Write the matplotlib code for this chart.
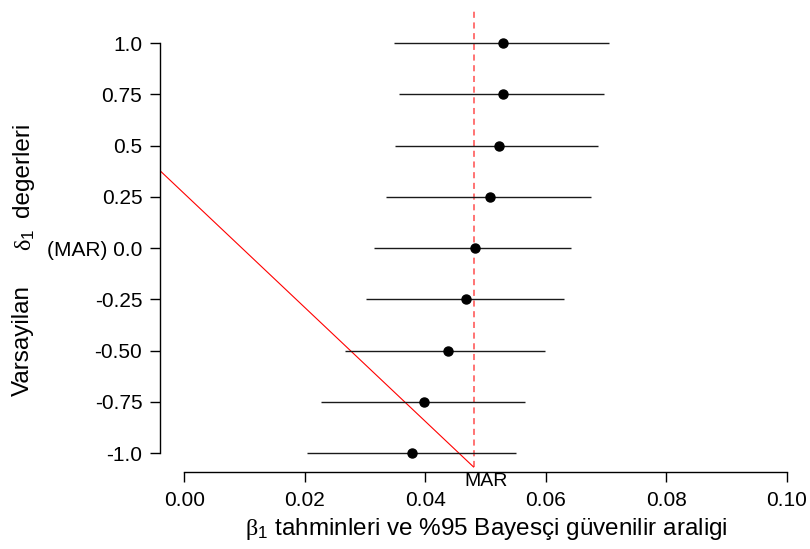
import matplotlib
matplotlib.use("Agg")
import matplotlib.pyplot as plt

plt.rcParams['font.family'] = ['Liberation Sans', 'DejaVu Sans']
plt.rcParams['mathtext.fontset'] = 'custom'
plt.rcParams['mathtext.rm'] = 'Liberation Serif'
plt.rcParams['mathtext.sf'] = 'Liberation Sans'
plt.rcParams['mathtext.it'] = 'Liberation Sans:italic'

# data
delta = [1.0, 0.75, 0.5, 0.25, 0.0, -0.25, -0.5, -0.75, -1.0]
ytick_labels = ["1.0", "0.75", "0.5", "0.25", "(MAR) 0.0", "-0.25", "-0.50", "-0.75", "-1.0"]
est = [0.0529, 0.0529, 0.0522, 0.0508, 0.0482, 0.0467, 0.0437, 0.0397, 0.0378]
lower = [0.0348, 0.0357, 0.0350, 0.0334, 0.0315, 0.0302, 0.0267, 0.0227, 0.0203]
upper = [0.0705, 0.0697, 0.0686, 0.0675, 0.0641, 0.0631, 0.0598, 0.0566, 0.0551]
mar_value = 0.048
xticks = [0.00, 0.02, 0.04, 0.06, 0.08, 0.10]
xtick_labels = ["0.00", "0.02", "0.04", "0.06", "0.08", "0.10"]
red_line_x = [-0.004, 0.048]
red_line_y = [0.3756, -1.068]

W, H = 810, 549
fig = plt.figure(figsize=(8.1, 5.49), dpi=100)
ax = fig.add_axes([0.198, 0.130, 0.803, 0.8663])
ax.set_xlim(-0.004, 0.104)
ax.set_ylim(-1.12, 1.2)

ax.hlines(delta, lower, upper, color='#1a1a1a', lw=1.0, zorder=2)
ax.plot(est, delta, 'o', color='black', ms=6.5, zorder=3)
ax.plot([mar_value, mar_value], [-1.068, 1.166], color='#ff4d4d', lw=1.1,
        dashes=(4, 3), zorder=1)
ax.plot(red_line_x, red_line_y, color='red', lw=0.8, zorder=1)
ax.text(0.05, -1.14, "MAR", ha='center', va='center', fontsize=14)

for s in ['top', 'right']:
    ax.spines[s].set_visible(False)
ax.spines['left'].set_bounds(-1.0, 1.0)
ax.spines['bottom'].set_position(('data', -1.091))
ax.spines['bottom'].set_bounds(0.0, 0.10)
for s in ['left', 'bottom']:
    ax.spines[s].set_linewidth(1.0)

ax.set_yticks(delta)
ax.set_yticklabels(ytick_labels, fontsize=15)
ax.set_xticks(xticks)
ax.set_xticklabels(xtick_labels, fontsize=15)
ax.tick_params(axis='both', length=7, width=1.0)
ax.tick_params(axis='y', pad=6)
ax.tick_params(axis='x', pad=7)

# y label (three pieces, rotated)
fig.text(23 / W, 1 - 340 / H, "Varsayilan", rotation=90, ha='center', va='center', fontsize=17.5)
fig.text(25 / W, 1 - 240 / H, r"$\mathrm{\delta}_{\mathsf{1}}$", rotation=90, ha='center', va='center', fontsize=17.5)
fig.text(23 / W, 1 - 170 / H, "degerleri", rotation=90, ha='center', va='center', fontsize=17.5)

# x label
fig.text(486 / W, 1 - 516 / H,
         r"$\mathrm{\beta}_{\mathsf{1}}$ tahminleri ve %95 Bayesçi güvenilir araligi",
         ha='center', va='top', fontsize=17.5)

fig.savefig("out.png", dpi=100)
